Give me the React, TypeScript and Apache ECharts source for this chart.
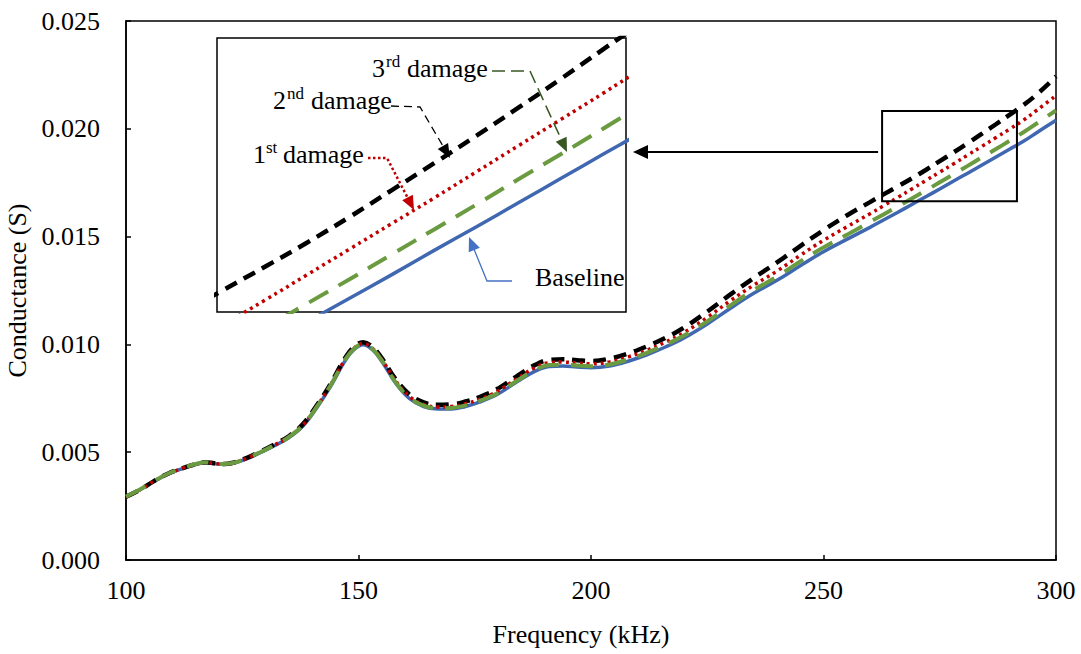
import React, { useEffect, useRef } from "react";
import * as echarts from "echarts";

// Frequency sweep (kHz)
const FREQ = [
  100, 103, 106, 109, 112, 115, 117, 119, 121, 123, 126, 129, 132, 135, 138, 141, 144, 147, 149, 151,
  153, 155, 158, 161, 164, 167, 170, 173, 176, 180, 184, 188, 191, 194, 197, 200, 204, 208, 212, 216,
  220, 225, 230, 235, 240, 245, 250, 255, 260, 263, 266, 269, 272, 275, 278, 281, 284, 287, 290, 293,
  296, 300,
];

// Conductance signatures (S)
const BASELINE = [
  0.00293, 0.00326, 0.00364, 0.00398, 0.00423, 0.00443, 0.00451, 0.00447, 0.00443, 0.00448, 0.0047, 0.00499,
  0.00531, 0.00567, 0.0062, 0.00705, 0.00805, 0.0092, 0.00975, 0.00998, 0.00975, 0.00922, 0.0082, 0.00748,
  0.00712, 0.007, 0.007, 0.00712, 0.00732, 0.0077, 0.00825, 0.00876, 0.00898, 0.009, 0.00895, 0.00892,
  0.009, 0.00922, 0.00952, 0.00988, 0.0103, 0.01095, 0.01168, 0.01237, 0.01297, 0.01365, 0.0143, 0.01487,
  0.01543, 0.01578, 0.01613, 0.01649, 0.01685, 0.01721, 0.01758, 0.01794, 0.01831, 0.01868, 0.01905, 0.01942,
  0.01984, 0.0204,
];
const DAMAGE_1 = [
  0.00293, 0.00326, 0.00365, 0.00399, 0.00424, 0.00444, 0.00452, 0.00448, 0.00444, 0.0045, 0.00472, 0.00502,
  0.00534, 0.00571, 0.00625, 0.00711, 0.00812, 0.00926, 0.00981, 0.01004, 0.00982, 0.0093, 0.0083, 0.00758,
  0.00722, 0.0071, 0.00712, 0.00725, 0.00745, 0.00784, 0.0084, 0.00893, 0.00915, 0.00918, 0.00914, 0.0091,
  0.00919, 0.00942, 0.00973, 0.0101, 0.01055, 0.01125, 0.01203, 0.01275, 0.0134, 0.01413, 0.01483, 0.01545,
  0.01606, 0.01644, 0.01682, 0.01721, 0.0176, 0.01799, 0.01838, 0.01878, 0.01918, 0.01958, 0.01998, 0.0204,
  0.02088, 0.02154,
];
const DAMAGE_2 = [
  0.00293, 0.00326, 0.00366, 0.004, 0.00425, 0.00445, 0.00453, 0.00449, 0.00445, 0.00451, 0.00474, 0.00504,
  0.00537, 0.00574, 0.00629, 0.00716, 0.00817, 0.00933, 0.00988, 0.0101, 0.00988, 0.00937, 0.00838, 0.00767,
  0.00731, 0.0072, 0.00722, 0.00735, 0.00756, 0.00795, 0.00852, 0.00905, 0.00928, 0.00931, 0.00927, 0.00923,
  0.00934, 0.00958, 0.00991, 0.0103, 0.01078, 0.01152, 0.01232, 0.01308, 0.0138, 0.01456, 0.0153, 0.01598,
  0.0166, 0.01697, 0.01733, 0.0177, 0.01809, 0.0185, 0.01891, 0.01933, 0.01976, 0.0202, 0.02065, 0.0211,
  0.02162, 0.02243,
];
const DAMAGE_3 = [
  0.00294, 0.00327, 0.00366, 0.004, 0.00425, 0.00445, 0.00453, 0.00449, 0.00445, 0.0045, 0.00472, 0.00501,
  0.00533, 0.0057, 0.00624, 0.0071, 0.0081, 0.00925, 0.00979, 0.01001, 0.00979, 0.00926, 0.00824, 0.00752,
  0.00716, 0.00704, 0.00705, 0.00717, 0.00737, 0.00775, 0.0083, 0.00882, 0.00904, 0.00906, 0.00902, 0.00899,
  0.00907, 0.0093, 0.00961, 0.00998, 0.01041, 0.01107, 0.01181, 0.01252, 0.01314, 0.01385, 0.0145, 0.01508,
  0.01568, 0.01604, 0.0164, 0.01677, 0.01714, 0.01752, 0.0179, 0.01828, 0.01867, 0.01905, 0.01944, 0.01984,
  0.02027, 0.02085,
];

// Axis ranges
const FREQ_RANGE = [100, 300];
const FREQ_STEP = 50;
const G_RANGE = [0, 0.025];
const G_STEP = 0.005;

// Magnified window shown in the inset
const INSET_FREQ = [262.6, 291.6];
const INSET_G = [0.01664, 0.02082];

const FONT = "'Liberation Serif', 'Times New Roman', serif";

type Pt = [number, number];

function arrowHead(tip: Pt, from: Pt, len: number, half: number): Pt[] {
  const dx = tip[0] - from[0];
  const dy = tip[1] - from[1];
  const d = Math.hypot(dx, dy);
  const ux = dx / d;
  const uy = dy / d;
  const bx = tip[0] - ux * len;
  const by = tip[1] - uy * len;
  return [tip, [bx - uy * half, by + ux * half], [bx + uy * half, by - ux * half]];
}

function leader(points: Pt[], color: string, width: number, dash: number[] | null) {
  const tip = points[points.length - 1];
  const prev = points[points.length - 2];
  const headLen = 14;
  const dx = tip[0] - prev[0];
  const dy = tip[1] - prev[1];
  const d = Math.hypot(dx, dy);
  const end: Pt = [tip[0] - (dx / d) * headLen * 0.8, tip[1] - (dy / d) * headLen * 0.8];
  const line = points.slice(0, -1).concat([end]);
  return [
    {
      type: "polyline",
      z: 110,
      shape: { points: line },
      style: { stroke: color, lineWidth: width, lineDash: dash || undefined, fill: null },
    },
    {
      type: "polygon",
      z: 110,
      shape: { points: arrowHead(tip, prev, headLen, 6) },
      style: { fill: color, stroke: null },
    },
  ];
}

function text(x: number, y: number, s: string, size = 26) {
  return {
    type: "text",
    x,
    y,
    z: 110,
    style: {
      text: s,
      fontSize: size,
      fontFamily: FONT,
      fill: "#000",
      align: "left",
      verticalAlign: "middle",
    },
  };
}

const CURVES = [
  { name: "Baseline", data: BASELINE, color: "#4068B0", width: 3.5, type: "solid" as any },
  { name: "2nd damage", data: DAMAGE_2, color: "#000000", width: 4.5, type: [13, 8] },
  { name: "1st damage", data: DAMAGE_1, color: "#C00000", width: 3.5, type: [3, 4] },
  { name: "3rd damage", data: DAMAGE_3, color: "#6A9B40", width: 4, type: [22, 12] },
];

export default function App() {
  const ref = useRef<HTMLDivElement>(null);

  useEffect(() => {
    if (!ref.current) return;
    const chart = echarts.init(ref.current, null, { renderer: "svg" });

    const series: any[] = [];
    [0, 1].forEach((gi) => {
      CURVES.forEach((c) => {
        series.push({
          type: "line",
          name: c.name,
          xAxisIndex: gi,
          yAxisIndex: gi,
          data: FREQ.map((f, i) => [f, c.data[i]]),
          smooth: 0.4,
          showSymbol: false,
          symbol: "none",
          clip: true,
          lineStyle: { color: c.color, width: c.width, type: c.type, cap: "butt" },
          z: 5,
        });
      });
    });

    const axisBase = {
      axisLine: { show: true, onZero: false, lineStyle: { color: "#000", width: 1.5 } },
      axisTick: { show: true, inside: true, length: 5, lineStyle: { color: "#000", width: 1.5 } },
      splitLine: { show: false },
    };

    chart.setOption({
      animation: false,
      backgroundColor: "#fff",
      grid: [
        {
          left: 126,
          top: 21,
          right: 25,
          bottom: 94,
          show: true,
          borderColor: "#000",
          borderWidth: 1.5,
          outerBoundsMode: "none",
        },
        {
          left: 217,
          top: 38,
          width: 409,
          height: 274,
          show: true,
          backgroundColor: "#fff",
          borderColor: "#000",
          borderWidth: 1.5,
          outerBoundsMode: "none",
        },
      ],
      xAxis: [
        {
          ...axisBase,
          gridIndex: 0,
          type: "value",
          min: FREQ_RANGE[0],
          max: FREQ_RANGE[1],
          interval: FREQ_STEP,
          name: "Frequency (kHz)",
          nameLocation: "middle",
          nameGap: 61,
          nameTextStyle: { fontFamily: FONT, fontSize: 26, color: "#000", padding: [0, 20, 0, 0] },
          axisLabel: { fontFamily: FONT, fontSize: 26, color: "#000", margin: 17 },
        },
        {
          gridIndex: 1,
          type: "value",
          show: false,
          min: INSET_FREQ[0],
          max: INSET_FREQ[1],
          splitLine: { show: false },
        },
      ],
      yAxis: [
        {
          ...axisBase,
          gridIndex: 0,
          type: "value",
          min: G_RANGE[0],
          max: G_RANGE[1],
          interval: G_STEP,
          name: "Conductance (S)",
          nameLocation: "middle",
          nameGap: 92,
          nameTextStyle: { fontFamily: FONT, fontSize: 26, color: "#000" },
          axisLabel: {
            fontFamily: FONT,
            fontSize: 26,
            color: "#000",
            margin: 26,
            formatter: (v: number) => v.toFixed(3),
          },
        },
        {
          gridIndex: 1,
          type: "value",
          show: false,
          min: INSET_G[0],
          max: INSET_G[1],
          splitLine: { show: false },
        },
      ],
      series,
    });

    // Frame around the magnified window, located through the main axes
    const p0 = chart.convertToPixel({ xAxisIndex: 0, yAxisIndex: 0 }, [INSET_FREQ[0], INSET_G[1]]) as number[];
    const p1 = chart.convertToPixel({ xAxisIndex: 0, yAxisIndex: 0 }, [INSET_FREQ[1], INSET_G[0]]) as number[];
    const insetRight = 217 + 409;
    const arrowY = 152;
    const bigTip: Pt = [insetRight + 7, arrowY];

    const graphic: any[] = [
      {
        type: "rect",
        z: 100,
        shape: { x: p0[0], y: p0[1], width: p1[0] - p0[0], height: p1[1] - p0[1] },
        style: { fill: null, stroke: "#000", lineWidth: 2 },
      },
      {
        type: "line",
        z: 100,
        shape: { x1: p0[0] - 4, y1: arrowY, x2: bigTip[0] + 12, y2: arrowY },
        style: { stroke: "#000", lineWidth: 2 },
      },
      {
        type: "polygon",
        z: 100,
        shape: { points: arrowHead(bigTip, [p0[0], arrowY], 15, 7) },
        style: { fill: "#000" },
      },
      // 3rd damage
      text(372, 68, "3"),
      text(386, 61, "rd", 17),
      text(407, 68, "damage"),
      ...leader([[492, 71], [530, 71], [567, 152]], "#385723", 1.5, [13, 6]),
      // 2nd damage
      text(273, 100, "2"),
      text(287, 93, "nd", 17),
      text(311, 100, "damage"),
      ...leader([[391, 106], [420, 107], [450, 158]], "#000000", 1.3, [8, 5]),
      // 1st damage
      text(253, 154, "1"),
      text(266, 147, "st", 17),
      text(283, 154, "damage"),
      ...leader([[368, 158], [387, 158], [414, 210]], "#C00000", 2.5, [2.5, 2.5]),
      // Baseline
      text(535, 277, "Baseline"),
      ...leader([[512, 281], [487, 281], [469, 237]], "#4472C4", 1.3, null),
    ];

    chart.setOption({ graphic });

    return () => chart.dispose();
  }, []);

  return (
    <div
      ref={ref}
      style={{ position: "absolute", left: 0, top: 0, width: 1081, height: 654, background: "#fff" }}
    />
  );
}
